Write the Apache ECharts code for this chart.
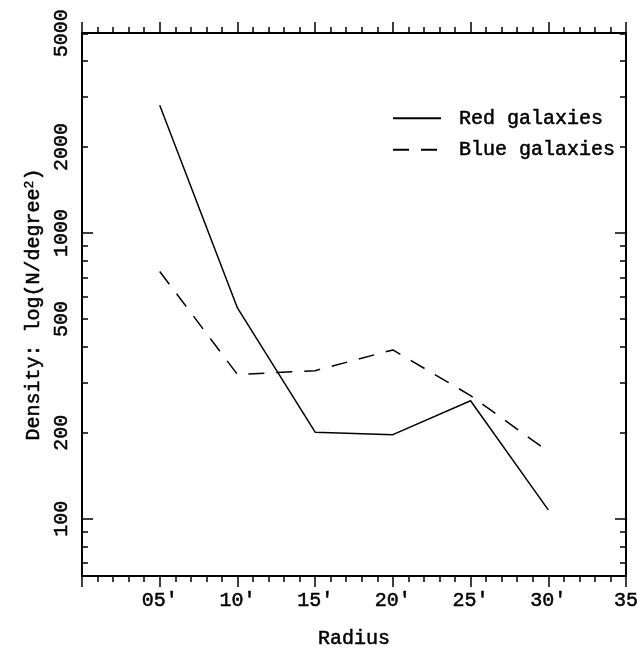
<!DOCTYPE html>
<html>
<head>
<meta charset="utf-8">
<script src="https://cdn.jsdelivr.net/npm/echarts@6/dist/echarts.min.js"></script>
<style>
html,body{margin:0;padding:0;background:#fff;}
#chart{width:637px;height:654px;}
</style>
</head>
<body>
<div id="chart"></div>
<script>
// ---- data ----
var radius = [5, 10, 15, 20, 25, 30];
var redGalaxies = [2800, 547, 201, 197, 259, 107.5];
var blueGalaxies = [734, 320, 330, 390, 270, 172];
var xTickValues = [0, 5, 10, 15, 20, 25, 30, 35];
var xTickLabels = ['', '05\u2032', '10\u2032', '15\u2032', '20\u2032', '25\u2032', '30\u2032', '35'];
var yLabelValues = [100, 200, 500, 1000, 2000, 5000];
var yMajorTicks = [100, 1000];
var yMinorTicks = [70, 80, 90, 200, 300, 400, 500, 600, 700, 800, 900, 2000, 3000, 4000, 5000];
var seriesNames = ['Red galaxies', 'Blue galaxies'];

var FONT = 'Liberation Mono';
var TXT = { fontFamily: FONT, fontSize: 20, color: '#000', textBorderColor: '#000', textBorderWidth: 0.5 };
var yMin = Math.pow(10, 1.8), yMax = Math.pow(10, 3.7);

function pairs(xs, ys) { return xs.map(function (x, i) { return [x, ys[i]]; }); }
function ext(a, b) { var o = {}, k; for (k in a) o[k] = a[k]; for (k in b) o[k] = b[k]; return o; }

var lineStyleAxis = { color: '#000', width: 2 };
function xAxisDef(pos, showLabel) {
  return {
    type: 'value', position: pos, min: 0, max: 35, interval: 5,
    axisLine: { show: true, onZero: false, lineStyle: lineStyleAxis },
    axisTick: { show: true, inside: false, length: 11, lineStyle: { color: '#000', width: 1.5 } },
    minorTick: { show: true, splitNumber: 5, length: 6, lineStyle: { color: '#000', width: 1.5 } },
    splitLine: { show: false }, minorSplitLine: { show: false },
    axisLabel: ext(TXT, {
      show: showLabel, margin: 15,
      formatter: function (v) { var i = xTickValues.indexOf(v); return i >= 0 ? xTickLabels[i] : ''; }
    }),
    name: showLabel ? 'Radius' : '', nameLocation: 'middle', nameGap: 53,
    nameTextStyle: TXT
  };
}
function yAxisDef(pos, ticks, len, showLabel) {
  return {
    type: 'log', logBase: 10, position: pos, min: yMin, max: yMax,
    axisLine: { show: true, onZero: false, lineStyle: lineStyleAxis },
    axisTick: { show: true, inside: true, length: len, customValues: ticks, lineStyle: { color: '#000', width: 1.5 } },
    minorTick: { show: false },
    splitLine: { show: false },
    axisLabel: showLabel ? ext(TXT, {
      show: true, customValues: yLabelValues, rotate: 90, margin: 10,
      formatter: function (v) { return String(Math.round(v)); }
    }) : { show: false },
    name: showLabel ? 'Density: log(N/degree{s|2})' : '',
    nameLocation: 'middle', nameGap: 37, nameRotate: 90,
    nameTextStyle: ext(TXT, {
      rich: { s: { fontFamily: FONT, fontSize: 13, color: '#000', textBorderColor: '#000', textBorderWidth: 0.4, padding: [0, 0, 9, 0] } }
    })
  };
}

var chart = echarts.init(document.getElementById('chart'), null, { renderer: 'canvas' });
chart.setOption({
  animation: false,
  backgroundColor: '#fff',
  grid: { left: 82, right: 11, top: 33, bottom: 78, outerBoundsMode: 'none', containLabel: false },
  legend: {
    data: seriesNames, orient: 'vertical', left: 392, top: 108, padding: 0,
    itemWidth: 48, itemHeight: 14, itemGap: 11,
    itemStyle: { color: 'transparent', opacity: 0, borderWidth: 0 },
    textStyle: ext(TXT, { padding: [0, 0, 0, 13] }),
    selectedMode: false
  },
  xAxis: [xAxisDef('bottom', true), xAxisDef('top', false)],
  yAxis: [
    yAxisDef('left', yMajorTicks, 11, true),
    yAxisDef('left', yMinorTicks, 6, false),
    yAxisDef('right', yMajorTicks, 11, false),
    yAxisDef('right', yMinorTicks, 6, false)
  ],
  series: [
    {
      name: seriesNames[0], type: 'line', xAxisIndex: 0, yAxisIndex: 0,
      data: pairs(radius, redGalaxies), symbol: 'none', silent: true,
      lineStyle: { color: '#000', width: 1.5, type: 'solid' },
      itemStyle: { color: '#000' }
    },
    {
      name: seriesNames[1], type: 'line', xAxisIndex: 0, yAxisIndex: 0,
      data: pairs(radius, blueGalaxies), symbol: 'none', silent: true,
      lineStyle: { color: '#000', width: 1.5, type: [16, 12] },
      itemStyle: { color: '#000' }
    }
  ]
});
</script>
</body>
</html>
